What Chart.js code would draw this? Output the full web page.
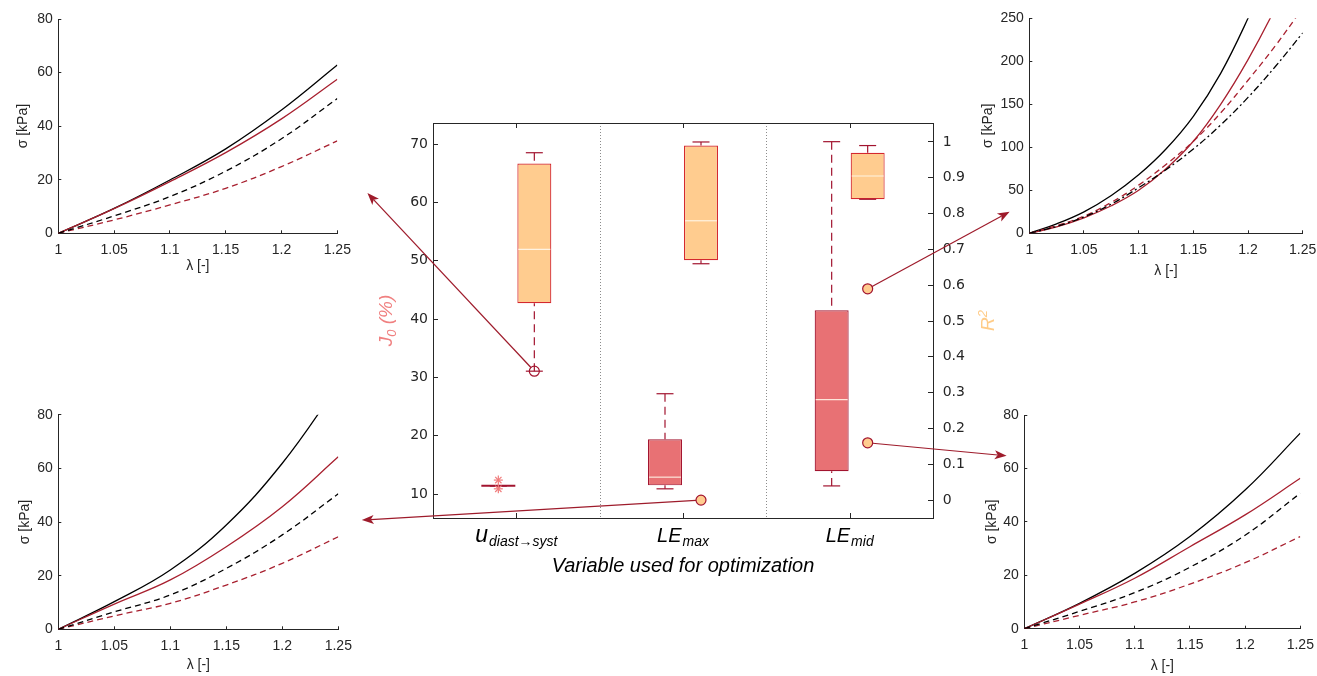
<!DOCTYPE html>
<html>
<head>
<meta charset="utf-8">
<script src="https://cdn.jsdelivr.net/npm/chart.js@4.4.1/dist/chart.umd.min.js"></script>
<style>
  html, body { margin: 0; padding: 0; background: #fff; }
  body { width: 1317px; height: 676px; position: relative; overflow: hidden; }
  canvas { position: absolute; }
</style>
</head>
<body>
<canvas id="box" width="650" height="480" style="left:360px;top:110px"></canvas>
<canvas id="tl" width="358" height="290" style="left:0px;top:0px"></canvas>
<canvas id="tr" width="357" height="290" style="left:960px;top:0px"></canvas>
<canvas id="bl" width="358" height="276" style="left:0px;top:400px"></canvas>
<canvas id="br" width="357" height="276" style="left:960px;top:400px"></canvas>
<canvas id="arrows" width="1317" height="676" style="left:0px;top:0px;pointer-events:none"></canvas>
<script>
// ---------- box plot data ----------
const catMain = ['u', 'LE', 'LE'];
const catSub = ['diast→syst', 'max', 'mid'];

// J0 (%) on the left axis
const j0Low  = [11.42, 10.9, 11.4];
const j0Q1   = [11.42, 11.5, 13.9];
const j0Med  = [11.42, 12.9, 26.2];
const j0Q3   = [11.42, 19.4, 41.5];
const j0High = [11.42, 27.2, 70.4];
const j0OutCat = [0, 0];
const j0OutVal = [12.4, 10.9];

// R2 on the right axis
const r2Low  = [0.36, 0.66, 0.84];
const r2Q1   = [0.55, 0.67, 0.84];
const r2Med  = [0.70, 0.78, 0.905];
const r2Q3   = [0.94, 0.99, 0.97];
const r2High = [0.97, 1.00, 0.99];

// the four picked fits and where their arrows point (in the target panel's axes)
const pickCat   = [0, 1, 2, 2];
const pickR2    = [0.36, 0.0, 0.59, 0.16];
const pickOpen  = [true, false, false, false];
const pickPanel = ['tl', 'bl', 'tr', 'br'];
const pickTipLam = [1.277, 1.271, 0.982, 0.984];
const pickTipSig = [15, 40.7, 25, 64.7];

// ---------- stress / stretch curves ----------
const lam = [1, 1.05, 1.1, 1.15, 1.2, 1.25];
const tlBlack     = [0, 9.3, 19.9, 31.5, 46.0, 62.8];
const tlRed       = [0, 9.2, 19.3, 30.1, 42.7, 57.5];
const tlBlackDash = [0, 6.5, 13.7, 23.2, 35.3, 50.3];
const tlRedDash   = [0, 5.0, 10.6, 16.8, 24.9, 34.5];

const blBlack     = [0, 10.3, 22.1, 38.9, 61.9, 91.0];
const blRed       = [0, 9.4, 18.4, 30.8, 45.7, 64.3];
const blBlackDash = [0, 6.5, 12.8, 22.7, 35.2, 50.5];
const blRedDash   = [0, 5.0, 9.7, 16.5, 24.6, 34.5];

const brBlack     = [0, 9.5, 20.7, 34.5, 51.9, 73.2];
const brRed       = [0, 9.2, 18.9, 30.7, 42.6, 56.3];
const brBlackDash = [0, 6.5, 13.5, 23.0, 35.0, 50.7];
const brRedDash   = [0, 5.0, 10.0, 16.7, 24.7, 34.5];

const lamTR = [1, 1.025, 1.05, 1.075, 1.1, 1.125, 1.15, 1.175, 1.2, 1.225, 1.25];
const trBlack   = [0, 11, 25, 44, 68, 98, 136, 186, 250, 322, 405];
const trRed     = [0, 7.5, 18, 32, 50, 75, 107, 150, 202, 262, 330];
const trRedDash = [0, 9, 20, 36, 56, 80, 107, 140, 178, 218, 262];
const trDashDot = [0, 8, 19, 34, 53, 74, 98, 126, 158, 194, 233];

const DARKRED = '#A2142F';
const AXIS = '#262626';
const SANS = '"Liberation Sans", Arial, Helvetica, sans-serif';

function seg(ctx, x0, y0, x1, y1) {
  ctx.beginPath(); ctx.moveTo(x0, y0); ctx.lineTo(x1, y1); ctx.stroke();
}

// whiskers, caps and medians on top of the floating bars
function drawBoxes(chart, di, scale, lo, q1, md, q3, hi, edge, medColor) {
  const ctx = chart.ctx;
  chart.getDatasetMeta(di).data.forEach((b, i) => {
    const x = b.x, w = b.width;
    const py = v => scale.getPixelForValue(v);
    ctx.save();
    ctx.strokeStyle = DARKRED;
    ctx.lineWidth = 1.2;
    ctx.setLineDash([8, 5]);
    if (hi[i] > q3[i]) seg(ctx, x, py(hi[i]), x, py(q3[i]));
    if (lo[i] < q1[i]) seg(ctx, x, py(lo[i]), x, py(q1[i]));
    ctx.setLineDash([]);
    seg(ctx, x - w / 4, py(hi[i]), x + w / 4, py(hi[i]));
    seg(ctx, x - w / 4, py(lo[i]), x + w / 4, py(lo[i]));
    if (q3[i] > q1[i]) {
      ctx.strokeStyle = medColor;
      seg(ctx, x - w / 2 + 1, py(md[i]), x + w / 2 - 1, py(md[i]));
    } else {
      ctx.strokeStyle = edge;
      ctx.lineWidth = 2;
      seg(ctx, x - w / 2, py(md[i]), x + w / 2, py(md[i]));
    }
    ctx.restore();
  });
}

// rotated title with an optional subscript or superscript part
function sideTitle(ctx, cx, cy, main, small, rest, smallDy, color) {
  ctx.save();
  ctx.translate(cx, cy);
  ctx.rotate(-Math.PI / 2);
  ctx.fillStyle = color;
  ctx.textBaseline = 'middle';
  ctx.textAlign = 'left';
  const big = 'italic 19px ' + SANS, tiny = 'italic 13px ' + SANS;
  ctx.font = big;
  const w1 = ctx.measureText(main).width, w3 = ctx.measureText(rest).width;
  ctx.font = tiny;
  const w2 = ctx.measureText(small).width;
  let x0 = -(w1 + w2 + w3) / 2;
  ctx.font = big;
  ctx.fillText(main, x0, 0);
  ctx.font = tiny;
  ctx.fillText(small, x0 + w1, smallDy);
  ctx.font = big;
  ctx.fillText(rest, x0 + w1 + w2, 0);
  ctx.restore();
}

const boxExtras = {
  id: 'boxExtras',
  beforeDatasetsDraw(chart) {
    const {ctx, chartArea: a, scales: {x}} = chart;
    ctx.save();
    ctx.strokeStyle = '#8c8c8c';
    ctx.lineWidth = 1;
    ctx.setLineDash([1, 2]);
    for (let i = 0; i < catMain.length - 1; i++) {
      const xp = Math.round((x.getPixelForValue(i) + x.getPixelForValue(i + 1)) / 2) + 0.5;
      seg(ctx, xp, a.top, xp, a.bottom);
    }
    ctx.restore();
  },
  afterDatasetsDraw(chart) {
    const ctx = chart.ctx;
    drawBoxes(chart, 0, chart.scales.y, j0Low, j0Q1, j0Med, j0Q3, j0High, DARKRED, '#FDE6DA');
    drawBoxes(chart, 1, chart.scales.y1, r2Low, r2Q1, r2Med, r2Q3, r2High, DARKRED, '#FFF3E2');

    // outliers (stars)
    const m0 = chart.getDatasetMeta(0).data;
    ctx.save();
    ctx.strokeStyle = '#F07C7C';
    ctx.lineWidth = 1.2;
    j0OutVal.forEach((v, k) => {
      const cx = m0[j0OutCat[k]].x, cy = chart.scales.y.getPixelForValue(v), r = 4.5;
      seg(ctx, cx - r, cy, cx + r, cy);
      seg(ctx, cx, cy - r, cx, cy + r);
      seg(ctx, cx - r * 0.7, cy - r * 0.7, cx + r * 0.7, cy + r * 0.7);
      seg(ctx, cx - r * 0.7, cy + r * 0.7, cx + r * 0.7, cy - r * 0.7);
    });
    ctx.restore();

    // picked fits
    const m1 = chart.getDatasetMeta(1).data;
    ctx.save();
    ctx.lineWidth = 1.2;
    ctx.strokeStyle = DARKRED;
    pickR2.forEach((v, k) => {
      const cx = m1[pickCat[k]].x, cy = chart.scales.y1.getPixelForValue(v);
      ctx.beginPath();
      ctx.arc(cx, cy, 5, 0, Math.PI * 2);
      if (!pickOpen[k]) { ctx.fillStyle = '#FFCC8F'; ctx.fill(); }
      ctx.stroke();
    });
    ctx.restore();
  },
  afterDraw(chart) {
    const {ctx, chartArea: a, scales: {x}} = chart;
    ctx.save();
    ctx.strokeStyle = AXIS;
    ctx.lineWidth = 1;
    ctx.strokeRect(Math.round(a.left) + 0.5, Math.round(a.top) + 0.5, Math.round(a.width), Math.round(a.height));
    for (let i = 0; i < catMain.length; i++) {
      const xp = Math.round(x.getPixelForValue(i)) + 0.5;
      seg(ctx, xp, a.top, xp, a.top + 5);
      seg(ctx, xp, a.bottom, xp, a.bottom - 5);
    }
    // category labels with subscripts
    ctx.fillStyle = '#000';
    ctx.textBaseline = 'alphabetic';
    ctx.textAlign = 'left';
    for (let i = 0; i < catMain.length; i++) {
      const mainFont = 'italic ' + (catMain[i] === 'u' ? 23 : 20) + 'px ' + SANS;
      const subFont = 'italic 14px ' + SANS;
      ctx.font = mainFont;
      const wm = ctx.measureText(catMain[i]).width;
      ctx.font = subFont;
      const ws = ctx.measureText(catSub[i]).width;
      let x0 = x.getPixelForValue(i) - (wm + ws + 1) / 2;
      ctx.font = mainFont;
      ctx.fillText(catMain[i], x0, a.bottom + 24);
      ctx.font = subFont;
      ctx.fillText(catSub[i], x0 + wm + 1, a.bottom + 28);
    }
    ctx.restore();
    // axis titles, both read bottom to top
    const midY = (a.top + a.bottom) / 2;
    sideTitle(ctx, a.left - 46, midY, 'J', '0', ' (%)', 5, '#F08080');
    sideTitle(ctx, a.right + 56, midY, 'R', '2', '', -6, '#FFCC88');
  }
};

const boxChart = new Chart(document.getElementById('box'), {
  type: 'bar',
  data: {
    labels: catMain.map((m, i) => m + ' ' + catSub[i]),
    datasets: [
      {
        label: 'J0',
        data: j0Q1.map((q, i) => [q, j0Q3[i]]),
        yAxisID: 'y',
        backgroundColor: '#E87174',
        borderColor: DARKRED,
        borderWidth: 1.2,
        borderSkipped: false,
        categoryPercentage: 0.432,
        barPercentage: 0.944
      },
      {
        label: 'R2',
        data: r2Q1.map((q, i) => [q, r2Q3[i]]),
        yAxisID: 'y1',
        backgroundColor: '#FFCC8F',
        borderColor: '#D4282E',
        borderWidth: 1.2,
        borderSkipped: false,
        categoryPercentage: 0.432,
        barPercentage: 0.944
      }
    ]
  },
  options: {
    responsive: false,
    animation: false,
    events: [],
    layout: { padding: { left: 10, right: 10, top: 13, bottom: 10 } },
    plugins: { legend: { display: false }, tooltip: { enabled: false } },
    scales: {
      x: {
        ticks: { display: false },
        grid: { display: false },
        border: { display: false },
        title: {
          display: true,
          text: 'Variable used for optimization',
          color: '#000',
          font: { family: SANS, size: 20, style: 'italic' },
          padding: { top: 0, bottom: 2 }
        },
        afterFit: s => { s.height = 62; s.paddingLeft = 0; s.paddingRight = 0; }
      },
      y: {
        position: 'left',
        min: 5.9,
        max: 73.6,
        ticks: {
          stepSize: 10, includeBounds: false, padding: 10, color: AXIS,
          font: { family: '"DejaVu Sans", Verdana, sans-serif', size: 14 }
        },
        grid: { drawOnChartArea: false, tickLength: -5, color: AXIS },
        border: { color: AXIS },
        title: { display: false },
        afterFit: s => { s.width = 63; s.paddingTop = 0; s.paddingBottom = 0; }
      },
      y1: {
        position: 'right',
        min: -0.05,
        max: 1.053,
        ticks: {
          stepSize: 0.1, includeBounds: false, padding: 14.7, color: AXIS,
          font: { family: '"DejaVu Sans", Verdana, sans-serif', size: 14 },
          callback: v => String(+v.toFixed(1))
        },
        grid: { drawOnChartArea: false, tickLength: -5, color: AXIS },
        border: { color: AXIS },
        title: { display: false },
        afterFit: s => { s.width = 67; s.paddingTop = 0; s.paddingBottom = 0; }
      }
    }
  },
  plugins: [boxExtras]
});

// ---------- the four stress-stretch panels ----------
function curveChart(id, area, yMax, yStep, xs, series, yTitlePad, xTitlePad) {
  const cv = document.getElementById(id);
  const W = cv.width, H = cv.height;
  return new Chart(cv, {
    type: 'line',
    data: {
      datasets: series.map(s => ({
        data: xs.map((x, i) => ({ x: x, y: s.y[i] })),
        borderColor: s.color,
        borderWidth: 1.3,
        borderDash: s.dash,
        pointRadius: 0,
        tension: 0.4,
        fill: false
      }))
    },
    options: {
      responsive: false,
      animation: false,
      events: [],
      layout: { padding: { left: 5, top: area.top, right: W - area.right, bottom: 0 } },
      plugins: { legend: { display: false }, tooltip: { enabled: false } },
      scales: {
        x: {
          type: 'linear', min: 1, max: 1.25,
          ticks: {
            stepSize: 0.05, padding: 11, maxRotation: 0, color: AXIS, font: { family: SANS, size: 14 },
            callback: v => String(+v.toFixed(2))
          },
          grid: { drawOnChartArea: false, tickLength: -3, color: AXIS },
          border: { color: AXIS },
          title: { display: true, text: 'λ [-]', color: AXIS, font: { family: SANS, size: 14 }, padding: { top: 0, bottom: xTitlePad } },
          afterFit: s => { s.height = H - area.bottom; s.paddingLeft = 0; s.paddingRight = 0; }
        },
        y: {
          min: 0, max: yMax,
          ticks: { stepSize: yStep, padding: 8.5, color: AXIS, font: { family: SANS, size: 14 } },
          grid: { drawOnChartArea: false, tickLength: -3, color: AXIS },
          border: { color: AXIS },
          title: { display: true, text: 'σ [kPa]', color: AXIS, font: { family: SANS, size: 14 }, padding: { top: yTitlePad, bottom: 0 } },
          afterFit: s => { s.width = area.left - 5; s.paddingTop = 0; s.paddingBottom = 0; }
        }
      }
    }
  });
}

const RED = '#A8202F';
const tlChart = curveChart('tl', { left: 58.3, right: 337.3, top: 19, bottom: 233.3 }, 80, 20, lam, [
  { y: tlBlackDash, color: '#000', dash: [6, 4] },
  { y: tlRedDash, color: RED, dash: [6, 4] },
  { y: tlRed, color: RED, dash: [] },
  { y: tlBlack, color: '#000', dash: [] }
], 9.6, 15.6);

const trChart = curveChart('tr', { left: 69.3, right: 342.7, top: 18.3, bottom: 233.3 }, 250, 50, lamTR, [
  { y: trDashDot, color: '#000', dash: [7, 3, 2, 3] },
  { y: trRedDash, color: RED, dash: [6, 4] },
  { y: trRed, color: RED, dash: [] },
  { y: trBlack, color: '#000', dash: [] }
], 14.6, 10.6);

const blChart = curveChart('bl', { left: 58.3, right: 338.3, top: 14.7, bottom: 229.3 }, 80, 20, lam, [
  { y: blBlackDash, color: '#000', dash: [6, 4] },
  { y: blRedDash, color: RED, dash: [6, 4] },
  { y: blRed, color: RED, dash: [] },
  { y: blBlack, color: '#000', dash: [] }
], 11.6, 2.6);

const brChart = curveChart('br', { left: 64.3, right: 340.3, top: 15, bottom: 228.7 }, 80, 20, lam, [
  { y: brBlackDash, color: '#000', dash: [6, 4] },
  { y: brRedDash, color: RED, dash: [6, 4] },
  { y: brRed, color: RED, dash: [] },
  { y: brBlack, color: '#000', dash: [] }
], 18.3, 1.6);

// ---------- arrows from the picked points to their panels ----------
const panels = { tl: tlChart, tr: trChart, bl: blChart, br: brChart };
const ov = document.getElementById('arrows').getContext('2d');

function drawArrow(ctx, x0, y0, x1, y1) {
  const ang = Math.atan2(y1 - y0, x1 - x0);
  const head = 12, half = 4.5;
  const sx = x0 + Math.cos(ang) * 5, sy = y0 + Math.sin(ang) * 5;
  const bx = x1 - Math.cos(ang) * head, by = y1 - Math.sin(ang) * head;
  ctx.save();
  ctx.strokeStyle = '#9E1B2B';
  ctx.fillStyle = '#9E1B2B';
  ctx.lineWidth = 1.2;
  seg(ctx, sx, sy, bx + Math.cos(ang) * 3, by + Math.sin(ang) * 3);
  ctx.beginPath();
  ctx.moveTo(x1, y1);
  ctx.lineTo(bx + Math.sin(ang) * half, by - Math.cos(ang) * half);
  ctx.lineTo(bx + Math.cos(ang) * 3, by + Math.sin(ang) * 3);
  ctx.lineTo(bx - Math.sin(ang) * half, by + Math.cos(ang) * half);
  ctx.closePath();
  ctx.fill();
  ctx.restore();
}

const r2Bars = boxChart.getDatasetMeta(1).data;
pickR2.forEach((v, k) => {
  const sx = boxChart.canvas.offsetLeft + r2Bars[pickCat[k]].x;
  const sy = boxChart.canvas.offsetTop + boxChart.scales.y1.getPixelForValue(v);
  const tc = panels[pickPanel[k]];
  const tx = tc.canvas.offsetLeft + tc.scales.x.getPixelForValue(pickTipLam[k]);
  const ty = tc.canvas.offsetTop + tc.scales.y.getPixelForValue(pickTipSig[k]);
  drawArrow(ov, sx, sy, tx, ty);
});
</script>
</body>
</html>
